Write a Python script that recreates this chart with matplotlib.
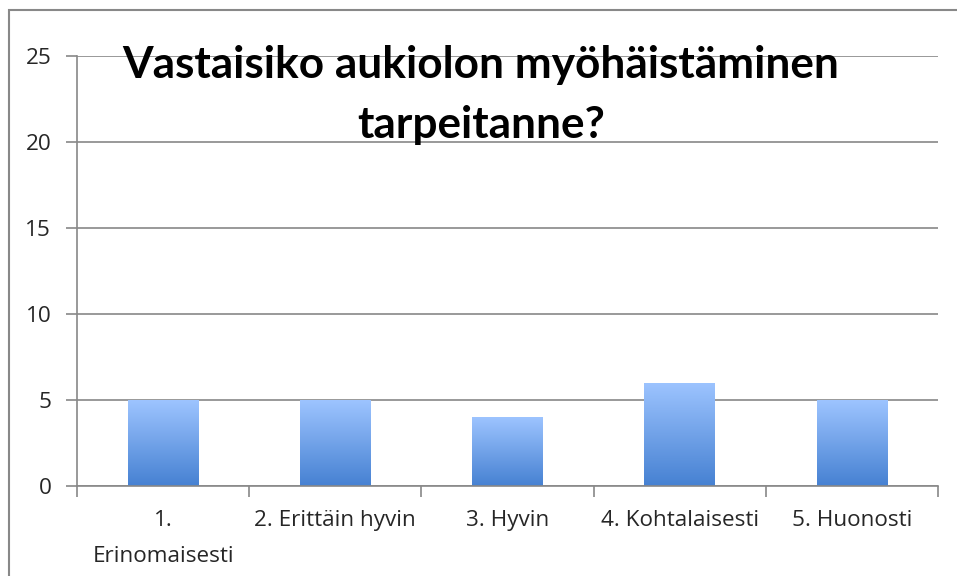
import matplotlib.pyplot as plt
import numpy as np
from matplotlib.colors import LinearSegmentedColormap
from matplotlib.patches import Rectangle

categories = ["1.\nErinomaisesti", "2. Erittäin hyvin", "3. Hyvin", "4. Kohtalaisesti", "5. Huonosti"]
values = [5, 5, 4, 6, 5]
yticks = [0, 5, 10, 15, 20, 25]
title = "Vastaisiko aukiolon myöhäistäminen\ntarpeitanne?"

W, H = 957, 576
fig = plt.figure(figsize=(W / 100, H / 100), dpi=100)
ax = fig.add_axes([77 / W, 1 - 486 / H, (938 - 77) / W, (486 - 56) / H])

x = np.arange(len(categories))
bars = ax.bar(x, values, width=0.41, color='none', edgecolor='none', zorder=2)
cmap = LinearSegmentedColormap.from_list('g', ['#4681D2', '#9DC4FF'])
grad = np.linspace(0, 1, 256).reshape(-1, 1)
for b in bars:
    x0, y0 = b.get_x(), b.get_y()
    w, h = b.get_width(), b.get_height()
    im = ax.imshow(grad, extent=[x0, x0 + w, y0, y0 + h], origin='lower',
                   aspect='auto', cmap=cmap, zorder=2, interpolation='bilinear')
    im.set_clip_path(b)

ax.set_xlim(-0.5, len(categories) - 0.5)
ax.set_ylim(0, 25)
ax.set_yticks(yticks)
ax.yaxis.grid(True, color='#888888', linewidth=1.2)
ax.set_axisbelow(True)

gray = '#888888'
font = 'Open Sans'
fs = 16.2
for s in ['top', 'right']:
    ax.spines[s].set_visible(False)
for s in ['left', 'bottom']:
    ax.spines[s].set_color(gray)
    ax.spines[s].set_linewidth(1.2)

ax.set_xticks(x)
ax.set_xticklabels(categories, fontfamily=font, fontsize=fs, color='#262626',
                   linespacing=1.9, va='top')
ax.tick_params(axis='x', which='major', length=0, pad=17.5)
ax.set_xticks(np.arange(-0.5, len(categories)), minor=True)
ax.tick_params(axis='x', which='minor', length=8, width=1.2, color=gray, direction='out')
ax.tick_params(axis='y', length=8, width=1.2, color=gray, pad=10.5,
               labelsize=fs, labelcolor='#262626')
for lbl in ax.get_yticklabels():
    lbl.set_fontfamily(font)

fig.text(481 / W, 1 - 95 / H, title, ha='center', va='center', multialignment='center',
         fontfamily='Lato', fontweight='bold', fontsize=31.8, linespacing=1.62, color='black')

fig.patches.append(Rectangle((9 / W, -0.1), 1.2, 1.1 - 10 / H, transform=fig.transFigure,
                             fill=False, edgecolor=gray, linewidth=1.5))

fig.savefig('out.png', dpi=100)
